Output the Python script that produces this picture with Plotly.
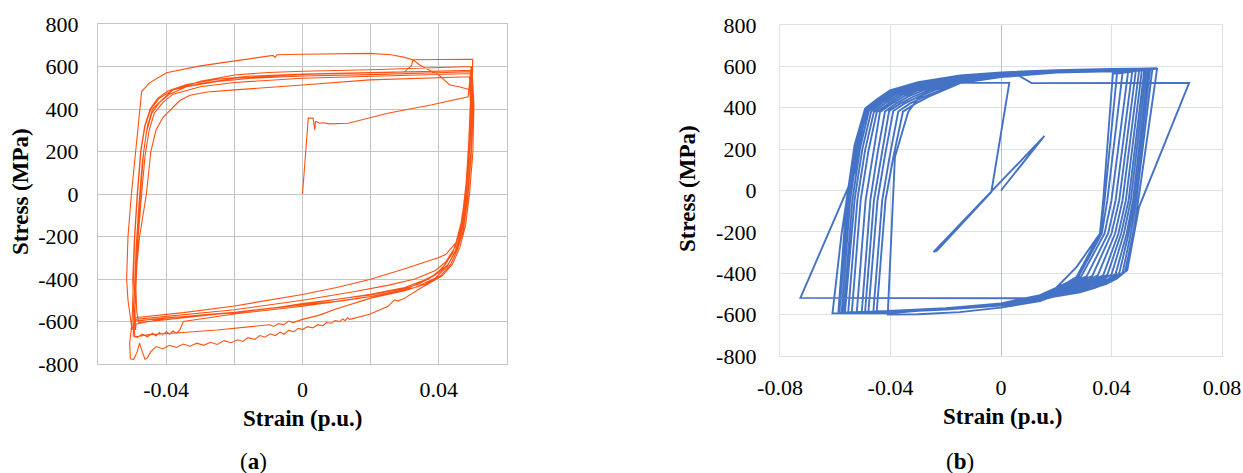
import plotly.graph_objects as go

# ---------------- Panel (a): measured hysteresis (strain p.u., stress MPa) ----------------
A_INIT = [(0.0, 0), (0.0009, 180), (0.0017, 357), (0.0031, 357), (0.0034, 330), (0.0036, 302),
          (0.0038, 340), (0.0041, 341), (0.0050, 333), (0.0060, 335), (0.0080, 330), (0.0110, 331),
          (0.0134, 333), (0.0250, 380), (0.0380, 420), (0.0486, 458), (0.0492, 540), (0.0495, 600)]
A_C1_DOWN = [(0.0493, 450), (0.0488, 250), (0.0480, 50), (0.0468, -120), (0.0450, -230), (0.0420, -285),
             (0.0398, -300), (0.0300, -352), (0.0197, -402), (0.0100, -440), (0.0000, -473),
             (-0.0100, -500), (-0.0204, -528), (-0.0350, -558), (-0.0492, -582)]
A_C1_UP = [(-0.0500, -640), (-0.0512, -500), (-0.0516, -400), (-0.0512, -200), (-0.0502, 0),
           (-0.0490, 200), (-0.0480, 360), (-0.0472, 482), (-0.0450, 522), (-0.0420, 552),
           (-0.0399, 571), (-0.0300, 603), (-0.0199, 626), (-0.0120, 645), (-0.0087, 652),
           (-0.0080, 643), (-0.0075, 655), (0.0000, 658), (0.0100, 660), (0.0197, 662),
           (0.0260, 655), (0.0300, 643), (0.0324, 632), (0.0330, 625), (0.0344, 607),
           (0.0370, 585), (0.0400, 560), (0.0432, 513), (0.0460, 505), (0.0491, 490)]
A_C2_DOWN = [(0.0496, 560), (0.0492, 350), (0.0486, 150), (0.0476, -50), (0.0462, -180),
             (0.0440, -280), (0.0410, -350), (0.0370, -400), (0.0300, -450), (0.0200, -482),
             (0.0100, -505), (0.0000, -522), (-0.0200, -556), (-0.0400, -588), (-0.0480, -605)]
A_C2_UP = [(-0.0486, -560), (-0.0490, -400), (-0.0485, -200), (-0.0476, 0), (-0.0466, 200),
           (-0.0455, 320), (-0.0440, 400), (-0.0414, 440), (-0.0380, 490), (-0.0300, 530),
           (-0.0199, 560), (-0.0100, 572), (0.0000, 578), (0.0200, 585), (0.0353, 591),
           (0.0440, 595), (0.0497, 600)]
A_C3_DOWN = [(0.0503, 420), (0.0500, 200), (0.0490, 0), (0.0478, -150), (0.0462, -250),
             (0.0440, -330), (0.0410, -385), (0.0350, -440), (0.0300, -490), (0.0280, -504),
             (0.0270, -498), (0.0250, -530), (0.0197, -566), (0.0139, -590), (0.0132, -582),
             (0.0125, -596), (0.0118, -588), (0.0110, -600), (0.0095, -596), (0.0085, -608),
             (0.0070, -605), (0.0060, -620), (0.0045, -615), (0.0030, -630), (0.0015, -624),
             (0.0000, -638), (-0.0012, -632), (-0.0025, -648), (-0.0040, -642), (-0.0055, -660),
             (-0.0065, -650), (-0.0080, -666), (-0.0095, -658), (-0.0110, -674), (-0.0125, -666),
             (-0.0140, -684), (-0.0160, -676), (-0.0175, -694), (-0.0190, -686), (-0.0210, -700),
             (-0.0230, -690), (-0.0250, -708), (-0.0270, -698), (-0.0290, -712), (-0.0310, -702),
             (-0.0330, -716), (-0.0350, -706), (-0.0370, -722), (-0.0390, -712), (-0.0410, -728),
             (-0.0430, -718), (-0.0445, -742), (-0.0455, -770), (-0.0462, -778), (-0.0470, -742),
             (-0.0478, -702), (-0.0485, -742), (-0.0495, -778), (-0.0505, -775), (-0.0507, -700)]
A_C3_UP = [(-0.0500, -600), (-0.0497, -400), (-0.0492, -200), (-0.0484, 0), (-0.0474, 200),
           (-0.0462, 320), (-0.0445, 400), (-0.0420, 450), (-0.0380, 490), (-0.0300, 520),
           (-0.0199, 545), (0.0000, 563), (0.0200, 571), (0.0400, 578), (0.0497, 582)]
A_C4_DOWN = [(0.0500, 400), (0.0494, 200), (0.0484, 0), (0.0470, -160), (0.0452, -260),
             (0.0425, -340), (0.0390, -395), (0.0330, -440), (0.0250, -470), (0.0150, -495),
             (0.0000, -528), (-0.0200, -565), (-0.0350, -600), (-0.0360, -640), (-0.0370, -655),
             (-0.0380, -645), (-0.0390, -660), (-0.0400, -648), (-0.0410, -664), (-0.0420, -652),
             (-0.0430, -668), (-0.0440, -655), (-0.0455, -672), (-0.0470, -660), (-0.0485, -675),
             (-0.0497, -668)]
A_C4_UP = [(-0.0492, -560), (-0.0488, -400), (-0.0482, -200), (-0.0472, 0), (-0.0462, 180),
           (-0.0450, 300), (-0.0435, 380), (-0.0410, 430), (-0.0380, 470), (-0.0300, 505),
           (-0.0200, 525), (0.0000, 545), (0.0200, 555), (0.0400, 563), (0.0495, 567)]
A_C5_DOWN = [(0.0498, 400), (0.0490, 200), (0.0478, 0), (0.0462, -170), (0.0442, -270),
             (0.0420, -330), (0.0390, -380), (0.0340, -425), (0.0300, -445), (0.0200, -475),
             (0.0100, -495), (0.0000, -515), (-0.0100, -540), (-0.0200, -560), (-0.0400, -582),
             (-0.0490, -598)]
A_C5_UP = [(-0.0494, -620), (-0.0490, -400), (-0.0478, -200), (-0.0458, 0), (-0.0445, 200),
           (-0.0430, 300), (-0.0410, 360), (-0.0389, 395), (-0.0360, 440), (-0.0330, 465),
           (-0.0280, 480), (-0.0199, 490), (-0.0100, 500), (0.0000, 513), (0.0197, 537),
           (0.0400, 548), (0.0490, 552)]
A_C6_DOWN = [(0.0494, 350), (0.0488, 150), (0.0478, -50), (0.0465, -180), (0.0448, -270),
             (0.0428, -330), (0.0400, -370), (0.0350, -410), (0.0300, -440), (0.0200, -472),
             (0.0000, -520), (-0.0100, -540), (-0.0200, -557), (-0.0300, -570), (-0.0400, -585),
             (-0.0488, -612)]
A_C6_UP = [(-0.0490, -640), (-0.0493, -450), (-0.0488, -250), (-0.0480, -50), (-0.0470, 150),
           (-0.0458, 290), (-0.0442, 380), (-0.0420, 430), (-0.0390, 470), (-0.0340, 505),
           (-0.0250, 530), (-0.0150, 545), (0.0000, 555), (0.0200, 562), (0.0400, 570),
           (0.0497, 575)]
A_C7_DOWN = [(0.0500, 380), (0.0495, 180), (0.0485, -20), (0.0472, -170), (0.0455, -260),
             (0.0435, -330), (0.0405, -385), (0.0360, -425), (0.0300, -455), (0.0200, -490),
             (0.0100, -540), (0.0050, -570), (0.0000, -590), (-0.0028, -605), (-0.0040, -598),
             (-0.0055, -615), (-0.0070, -610), (-0.0085, -623), (-0.0096, -615), (-0.0150, -625),
             (-0.0250, -640), (-0.0350, -652), (-0.0450, -662), (-0.0492, -672)]
A_C7_UP = [(-0.0495, -600), (-0.0498, -400), (-0.0493, -200), (-0.0485, 0), (-0.0475, 200),
           (-0.0463, 320), (-0.0447, 400), (-0.0425, 450), (-0.0395, 485), (-0.0340, 515),
           (-0.0250, 540), (-0.0150, 555), (0.0000, 565), (0.0200, 572), (0.0300, 575),
           (0.0320, 605), (0.0324, 632), (0.0400, 633), (0.0499, 634), (0.0499, 585)]
A_C8_DOWN = [(0.0496, 400), (0.0490, 200), (0.0480, 0), (0.0466, -150), (0.0448, -250),
             (0.0420, -320), (0.0390, -360), (0.0330, -400), (0.0250, -430), (0.0150, -460),
             (0.0000, -500), (-0.0200, -545), (-0.0400, -575), (-0.0490, -590)]

# ---------------- Panel (b): simulated hysteresis ----------------
B_START = [(0.0000, 0), (0.0157, 264), (0.0148, 250), (-0.0244, -297), (-0.0232, -291),
           (-0.0035, -7), (0.0030, 520), (-0.0179, 520), (-0.0220, 505), (-0.0260, 485),
           (-0.0300, 445), (-0.0336, 380), (-0.0384, 162), (-0.0410, -600), (-0.0300, -598),
           (-0.0150, -588), (0.0000, -566), (0.0141, -535), (0.0220, -495), (0.0274, -417),
           (0.0358, -208), (0.0370, -47), (0.0405, 565)]
B_A = [(0.0565, 589), (0.0497, -47), (0.0478, -208), (0.0449, -393), (0.0420, -425), (0.0380, -452),
       (0.0330, -472), (0.0286, -482), (0.0141, -530), (0.0000, -556), (-0.0200, -576),
       (-0.0400, -588), (-0.0589, -594), (-0.0559, -47), (-0.0530, 220), (-0.0492, 396),
       (-0.0450, 440), (-0.0402, 484), (-0.0300, 524), (-0.0148, 556), (0.0000, 571),
       (0.0200, 582), (0.0400, 587), (0.0565, 589)]
B_B = [(0.0548, 588), (0.0490, -47), (0.0470, -208), (0.0440, -398), (0.0410, -428), (0.0370, -452),
       (0.0330, -468), (0.0286, -478), (0.0141, -527), (0.0000, -554), (-0.0200, -574),
       (-0.0400, -586), (-0.0585, -591), (-0.0552, -47), (-0.0523, 215), (-0.0488, 392),
       (-0.0445, 438), (-0.0398, 480), (-0.0300, 520), (-0.0148, 552), (0.0000, 569),
       (0.0200, 581), (0.0400, 586), (0.0548, 588)]
B_C = [(0.0540, 587), (0.0484, -47), (0.0462, -208), (0.0428, -400), (0.0400, -428), (0.0360, -450),
       (0.0320, -463), (0.0286, -472), (0.0141, -523), (0.0000, -552), (-0.0200, -573),
       (-0.0400, -585), (-0.0577, -590), (-0.0546, -47), (-0.0518, 210), (-0.0484, 388),
       (-0.0440, 434), (-0.0392, 476), (-0.0300, 515), (-0.0148, 549), (0.0000, 567),
       (0.0200, 580), (0.0400, 585), (0.0540, 587)]
B_D = [(0.0533, 586), (0.0478, -47), (0.0455, -208), (0.0415, -403), (0.0390, -427), (0.0350, -447),
       (0.0310, -460), (0.0286, -466), (0.0141, -520), (0.0000, -551), (-0.0200, -572),
       (-0.0400, -584), (-0.0570, -589), (-0.0538, -47), (-0.0510, 205), (-0.0478, 385),
       (-0.0434, 430), (-0.0386, 472), (-0.0300, 510), (-0.0148, 546), (0.0000, 565),
       (0.0200, 579), (0.0400, 584), (0.0533, 586)]
B_E = [(0.0526, 585), (0.0470, -47), (0.0445, -208), (0.0400, -406), (0.0370, -428), (0.0330, -446),
       (0.0300, -455), (0.0286, -459), (0.0141, -517), (0.0000, -550), (-0.0200, -571),
       (-0.0400, -584), (-0.0565, -590), (-0.0530, -47), (-0.0502, 200), (-0.0470, 382),
       (-0.0426, 428), (-0.0378, 468), (-0.0300, 504), (-0.0148, 543), (0.0000, 563),
       (0.0200, 578), (0.0400, 584), (0.0526, 585)]
B_F = [(0.0519, 584), (0.0462, -47), (0.0435, -208), (0.0385, -408), (0.0355, -428), (0.0320, -442),
       (0.0286, -452), (0.0141, -514), (0.0000, -549), (-0.0200, -570), (-0.0400, -583),
       (-0.0553, -588), (-0.0520, -47), (-0.0492, 195), (-0.0460, 380), (-0.0416, 425),
       (-0.0368, 465), (-0.0300, 498), (-0.0148, 540), (0.0000, 561), (0.0200, 577),
       (0.0400, 583), (0.0519, 584)]
B_G = [(0.0510, 582), (0.0452, -47), (0.0425, -208), (0.0370, -410), (0.0340, -428), (0.0310, -440),
       (0.0286, -446), (0.0141, -512), (0.0000, -548), (-0.0200, -570), (-0.0400, -583),
       (-0.0540, -589), (-0.0508, -47), (-0.0480, 190), (-0.0450, 378), (-0.0406, 422),
       (-0.0358, 462), (-0.0300, 492), (-0.0148, 537), (0.0000, 559), (0.0200, 576),
       (0.0400, 582), (0.0510, 582)]
B_H = [(0.0500, 580), (0.0440, -47), (0.0413, -208), (0.0350, -412), (0.0320, -430), (0.0286, -440),
       (0.0141, -510), (0.0000, -548), (-0.0200, -569), (-0.0400, -582), (-0.0522, -587),
       (-0.0490, -47), (-0.0463, 185), (-0.0438, 380), (-0.0395, 420), (-0.0348, 458),
       (-0.0300, 485), (-0.0148, 534), (0.0000, 557), (0.0200, 575), (0.0400, 581), (0.0500, 580)]
B_I = [(0.0488, 578), (0.0428, -47), (0.0400, -208), (0.0330, -414), (0.0300, -428), (0.0286, -434),
       (0.0141, -508), (0.0000, -547), (-0.0200, -569), (-0.0400, -582), (-0.0504, -588),
       (-0.0473, -47), (-0.0447, 180), (-0.0420, 382), (-0.0380, 420), (-0.0335, 455),
       (-0.0280, 485), (-0.0148, 530), (0.0000, 555), (0.0200, 574), (0.0400, 580), (0.0488, 578)]
B_J = [(0.0475, 575), (0.0415, -47), (0.0388, -208), (0.0310, -415), (0.0286, -428), (0.0141, -507),
       (0.0000, -547), (-0.0200, -569), (-0.0400, -582), (-0.0492, -586), (-0.0460, -47),
       (-0.0433, 175), (-0.0405, 385), (-0.0365, 420), (-0.0320, 452), (-0.0260, 485),
       (-0.0148, 527), (0.0000, 553), (0.0200, 573), (0.0400, 579), (0.0475, 575)]
B_K = [(0.0460, 572), (0.0400, -47), (0.0375, -208), (0.0290, -416), (0.0260, -435), (0.0141, -506),
       (0.0000, -546), (-0.0200, -569), (-0.0400, -583), (-0.0480, -587), (-0.0447, -47),
       (-0.0420, 170), (-0.0390, 384), (-0.0350, 420), (-0.0300, 452), (-0.0240, 485),
       (-0.0148, 524), (0.0000, 551), (0.0200, 572), (0.0400, 578), (0.0460, 572)]
B_L = [(0.0440, 569), (0.0385, -47), (0.0365, -208), (0.0280, -417), (0.0250, -440), (0.0141, -506),
       (0.0000, -546), (-0.0200, -570), (-0.0400, -584), (-0.0462, -585), (-0.0430, -47),
       (-0.0403, 165), (-0.0372, 382), (-0.0330, 420), (-0.0280, 453), (-0.0220, 485),
       (-0.0148, 521), (0.0000, 549), (0.0200, 571), (0.0400, 577), (0.0440, 569)]
B_M = [(0.0420, 566), (0.0375, -47), (0.0360, -208), (0.0274, -417), (0.0240, -445), (0.0141, -507),
       (0.0000, -547), (-0.0200, -571), (-0.0400, -585), (-0.0450, -586), (-0.0418, -47),
       (-0.0390, 160), (-0.0355, 381), (-0.0310, 420), (-0.0260, 455), (-0.0200, 488),
       (-0.0148, 519), (0.0000, 548), (0.0200, 570), (0.0400, 576), (0.0420, 566)]
B_OUTER = [(0.0405, 565), (0.0370, -47), (0.0358, -208), (0.0274, -369), (0.0200, -470),
           (0.0141, -510), (0.0000, -550), (-0.0200, -572), (-0.0400, -592), (-0.0610, -594),
           (-0.0577, -208), (-0.0559, -47), (-0.0520, 250), (-0.0492, 396), (-0.0450, 440),
           (-0.0402, 484), (-0.0300, 522), (-0.0148, 545), (0.0000, 552), (0.0063, 556),
           (0.0111, 519), (0.0681, 520), (0.0500, -79), (0.0457, -385), (0.0400, -440),
           (0.0340, -470), (0.0286, -492), (0.0200, -512), (0.0141, -521), (-0.0726, -519),
           (-0.0526, 98), (-0.0490, 388), (-0.0450, 440), (-0.0402, 484), (-0.0300, 524),
           (-0.0148, 556), (0.0000, 571), (0.0200, 582), (0.0400, 588), (0.0565, 590)]

A_SEGMENTS = [A_INIT, A_C1_DOWN, A_C1_UP, A_C2_DOWN, A_C2_UP, A_C3_DOWN, A_C3_UP, A_C4_DOWN,
              A_C4_UP, A_C5_DOWN, A_C5_UP, A_C6_DOWN, A_C6_UP, A_C7_DOWN, A_C7_UP, A_C8_DOWN]
B_SEGMENTS = [B_START, B_M, B_L, B_K, B_J, B_I, B_H, B_G, B_F, B_E, B_D, B_C, B_B, B_A, B_OUTER]

Y_TICKS = [800, 600, 400, 200, 0, -200, -400, -600, -800]
Y_TEXT = ["800", "600", "400", "200", "0", "-200", "-400", "-600", "-800"]
A_X_TICKS = [-0.06, -0.04, -0.02, 0.0, 0.02, 0.04, 0.06]
A_X_TEXT = ["", "-0.04", "", "0", "", "0.04", ""]
B_X_TICKS = [-0.08, -0.04, 0.0, 0.04, 0.08]
B_X_TEXT = ["-0.08", "-0.04", "0", "0.04", "0.08"]


def join(segs):
    xs, ys = [], []
    for seg in segs:
        for x, y in seg:
            xs.append(x)
            ys.append(y)
    return xs, ys


W, H = 1243, 473
ax, ay = join(A_SEGMENTS)
bx, by = join(B_SEGMENTS)

fig = go.Figure()
fig.add_trace(go.Scatter(x=ax, y=ay, mode="lines", line=dict(color="#FF5212", width=1.1),
                         xaxis="x", yaxis="y", showlegend=False, hoverinfo="skip"))
fig.add_trace(go.Scatter(x=bx, y=by, mode="lines", line=dict(color="#4472C4", width=1.9),
                         xaxis="x2", yaxis="y2", showlegend=False, hoverinfo="skip"))

FONT = "Liberation Serif, serif"
tickfont = dict(family=FONT, size=22, color="#000000")

common = dict(tickmode="array", ticks="", tickfont=tickfont, automargin=False, fixedrange=True,
              showgrid=True, showline=True, mirror=True)

fig.update_layout(
    width=W, height=H, margin=dict(l=0, r=0, t=0, b=0, autoexpand=False),
    paper_bgcolor="white", plot_bgcolor="white", showlegend=False,
    font=dict(family=FONT, size=22, color="#000000"),
    xaxis=dict(domain=[98 / W, 507 / W], range=[-0.06, 0.06], tickvals=A_X_TICKS, ticktext=A_X_TEXT,
               gridcolor="#c4c4c4", gridwidth=1.2, zeroline=False, linecolor="#c4c4c4",
               linewidth=1.2, ticklabelstandoff=5, anchor="y", **common),
    yaxis=dict(domain=[1 - 364 / H, 1 - 24 / H], range=[-800, 800], tickvals=Y_TICKS, ticktext=Y_TEXT,
               gridcolor="#c4c4c4", gridwidth=1.2, zeroline=False, linecolor="#c4c4c4",
               linewidth=1.2, ticklabelstandoff=14, anchor="x", **common),
    xaxis2=dict(domain=[780 / W, 1222 / W], range=[-0.08, 0.08], tickvals=B_X_TICKS, ticktext=B_X_TEXT,
                gridcolor="#dde1e8", gridwidth=1.3, zeroline=True, zerolinecolor="#b7bfcd",
                zerolinewidth=1.2, linecolor="#dde1e8", linewidth=1.3, ticklabelstandoff=11,
                anchor="y2", **common),
    yaxis2=dict(domain=[1 - 356 / H, 1 - 25 / H], range=[-800, 800], tickvals=Y_TICKS, ticktext=Y_TEXT,
                gridcolor="#dde1e8", gridwidth=1.3, zeroline=False, linecolor="#dde1e8",
                linewidth=1.3, ticklabelstandoff=18, anchor="x2", **common),
)

titlefont = dict(family=FONT, size=23, color="#000000")
annos = [
    dict(text="<b>Strain (p.u.)</b>", x=303 / W, y=1 - 418 / H),
    dict(text="<b>Strain (p.u.)</b>", x=1003 / W, y=1 - 416 / H),
    dict(text="<b>Stress (MPa)</b>", x=21 / W, y=1 - 192 / H, textangle=-90),
    dict(text="<b>Stress (MPa)</b>", x=687 / W, y=1 - 189 / H, textangle=-90),
    dict(text="(<b>a</b>)", x=253 / W, y=1 - 461 / H),
    dict(text="(<b>b</b>)", x=960 / W, y=1 - 461 / H),
]
for a in annos:
    fig.add_annotation(xref="paper", yref="paper", xanchor="center", yanchor="middle",
                       showarrow=False, font=titlefont, **a)

fig.write_html("out.html")
